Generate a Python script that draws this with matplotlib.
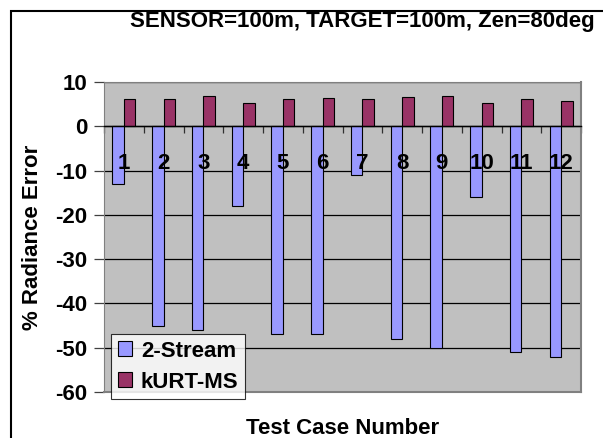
import matplotlib
matplotlib.use("Agg")
import matplotlib.pyplot as plt
import numpy as np
from matplotlib.patches import Rectangle

cases = [str(i) for i in range(1, 13)]
two_stream = [-13, -45, -46, -18, -47, -47, -11, -48, -50, -16, -51, -52]
kurt_ms = [6.2, 6.2, 6.9, 5.3, 6.2, 6.4, 6.2, 6.7, 6.9, 5.3, 6.2, 5.6]
yticks = [10, 0, -10, -20, -30, -40, -50, -60]
title = "SENSOR=100m, TARGET=100m, Zen=80deg"

plt.rcParams['font.family'] = ['Liberation Sans', 'DejaVu Sans']
plt.rcParams['font.weight'] = 'bold'
FS = 16

W, H = 603, 438
fig = plt.figure(figsize=(W/100, H/100), dpi=100)
fig.patch.set_facecolor('white')
ax = fig.add_axes([104/W, 1-392/H, (581-104)/W, (392-82)/H])
ax.set_facecolor('#C0C0C0')

x = np.arange(len(cases))
bw = 0.29
for v in yticks:
    ax.axhline(v, color='black', linewidth=0.9, zorder=0.8)
ax.bar(x - bw/2, two_stream, bw, color='#9999FF', edgecolor='black', linewidth=0.8, label='2-Stream', zorder=1.5)
ax.bar(x + bw/2, kurt_ms, bw, color='#993366', edgecolor='black', linewidth=0.8, label='kURT-MS', zorder=1.5)

ax.set_xlim(-0.5, len(cases) - 0.5)
ax.set_ylim(-60, 10)
ax.set_yticks(yticks)
ax.set_yticklabels([str(v) for v in yticks], fontsize=FS, fontweight='bold')
ax.tick_params(axis='y', length=7, width=0.9, pad=5, color='#404040')

# x axis at y=0
ax.spines['bottom'].set_position(('data', 0))
ax.spines['bottom'].set_color('black')
ax.spines['bottom'].set_linewidth(1.0)
ax.set_xticks(np.arange(len(cases) + 1) - 0.5)
ax.set_xticklabels([])
ax.tick_params(axis='x', which='major', length=5, width=0.9, direction='out', color='#303030')
ax.set_xticks(x, minor=True)
ax.set_xticklabels(cases, minor=True, fontsize=FS, fontweight='bold')
ax.tick_params(axis='x', which='minor', length=0, pad=19)
ax.axhline(-60, color='#808080', linewidth=1.5, zorder=5, clip_on=False)
for s in ['top', 'left']:
    ax.spines[s].set_color('#808080')
    ax.spines[s].set_linewidth(0.8)
ax.spines['right'].set_color('#808080')
ax.spines['right'].set_linewidth(1.5)

fig.text(33/W, 1-237/H, '% Radiance Error', rotation=90, ha='center', va='center', fontsize=FS, fontweight='bold')
fig.text(343/W, 1-429/H, 'Test Case Number', ha='center', va='center', fontsize=FS, fontweight='bold')
fig.text(362/W, 1-22/H, title, ha='center', va='center', fontsize=FS, fontweight='bold')

leg = fig.legend(loc='upper left', bbox_to_anchor=(111/W, 1-334/H),
                 prop={'weight': 'bold', 'size': FS}, frameon=True, fancybox=False,
                 edgecolor='black', borderpad=0.3, handlelength=0.65, handleheight=0.65,
                 handletextpad=0.4, labelspacing=0.45, borderaxespad=0)
leg.get_frame().set_linewidth(0.8)
leg.set_zorder(10)

fig.add_artist(Rectangle((11/W, -0.1), 1.2, 1.1 - 11/H, transform=fig.transFigure,
                         fill=False, edgecolor='black', linewidth=1.5))

fig.savefig('out.png', dpi=100)
